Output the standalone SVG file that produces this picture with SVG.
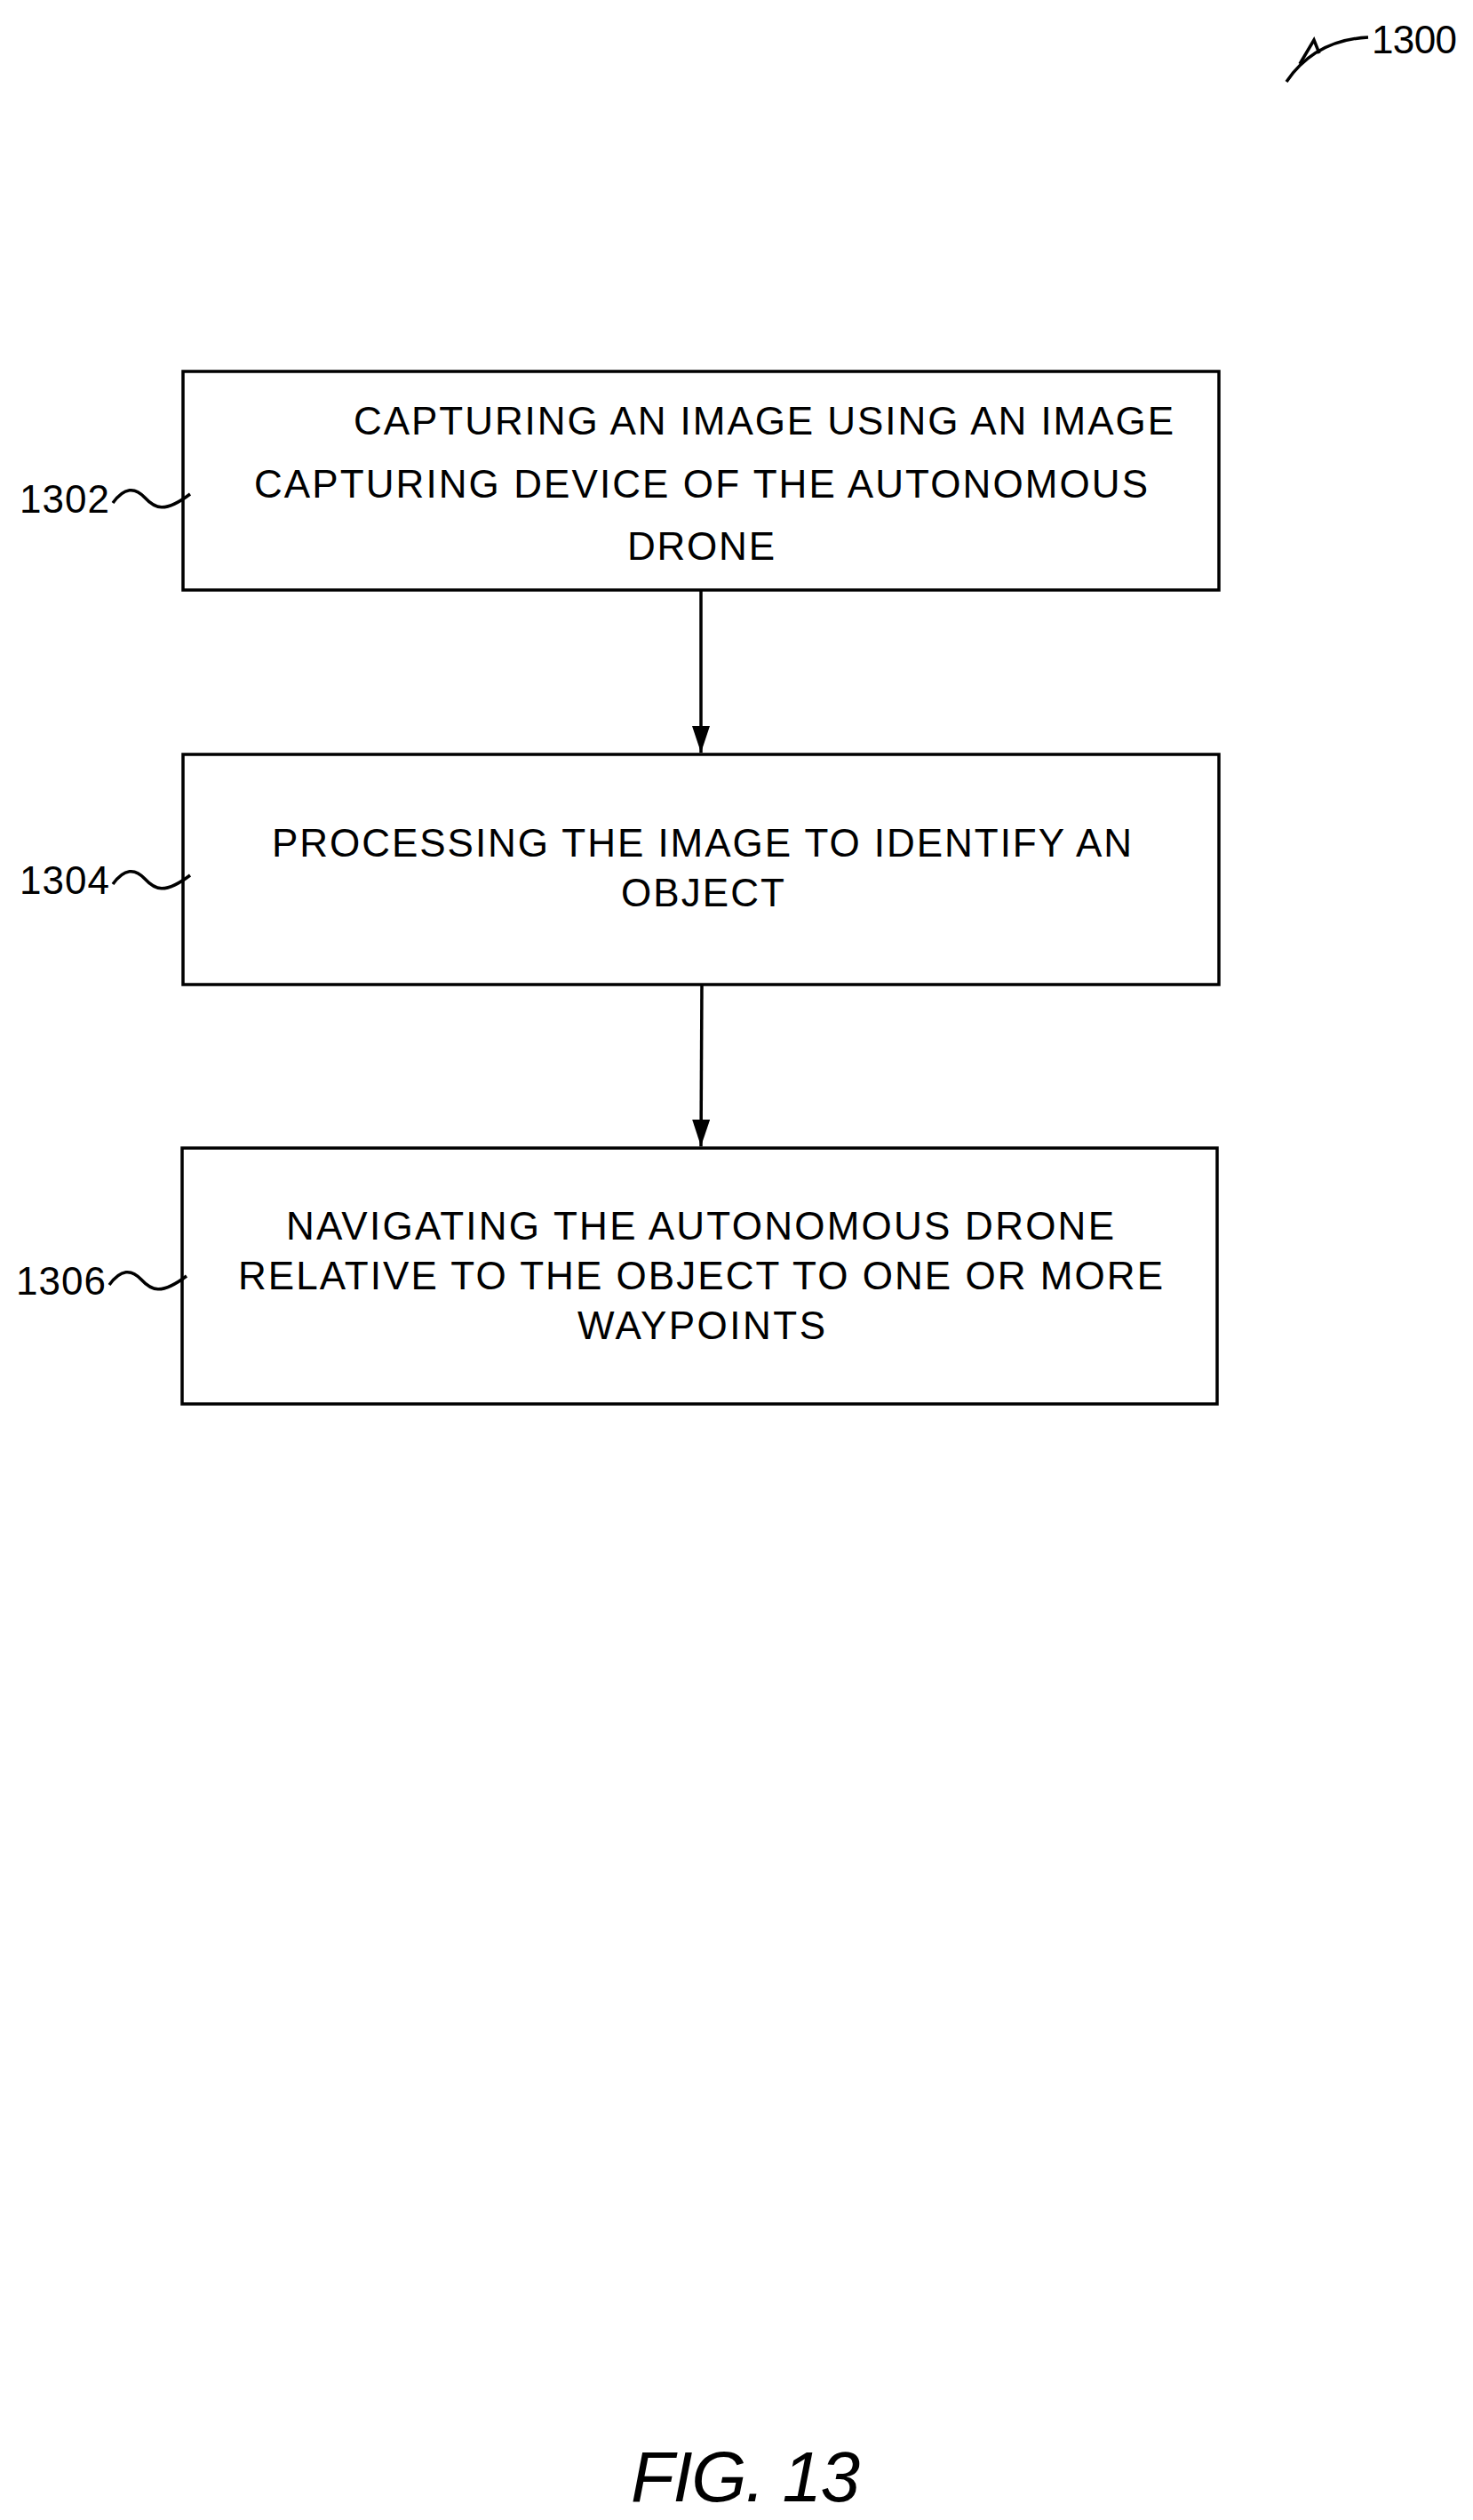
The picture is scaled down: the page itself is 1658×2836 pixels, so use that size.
<svg xmlns="http://www.w3.org/2000/svg" width="1658" height="2836" viewBox="0 0 1658 2836">
<style>
.box{fill:#fff;stroke:#000;stroke-width:3.5}
.t{font-family:"Liberation Sans",Arial,sans-serif;font-size:44px;fill:#000}
.lbl{font-family:"Liberation Sans",Arial,sans-serif;font-size:44px;fill:#000}
.sq{fill:none;stroke:#000;stroke-width:3.5}
.c{stroke:#000;stroke-width:3.5;fill:none}
</style>
<defs><marker id="ah" markerWidth="10" markerHeight="12" refX="9" refY="6" orient="auto" markerUnits="userSpaceOnUse" viewBox="0 0 10 12"><path d="M0,0 L10,6 L0,12 Z" fill="#000"/></marker>
<marker id="a2" markerWidth="30" markerHeight="20" refX="30" refY="10" orient="auto" markerUnits="userSpaceOnUse"><path d="M0,0 L30,10 L0,20 Z" fill="#000"/></marker></defs>
<g id="n1302">
<rect class="box" x="206" y="418" width="1166" height="246"/>
<text class="t" x="398" y="489" textLength="923">CAPTURING AN IMAGE USING AN IMAGE</text>
<text class="t" x="286" y="560" textLength="1006">CAPTURING DEVICE OF THE AUTONOMOUS</text>
<text class="t" x="706" y="630" textLength="166">DRONE</text>
<text class="lbl" x="22" y="577" textLength="101">1302</text>
<path class="sq" d="M127,566 C140,548 152,548 163,560 S185,578 214,556"/>
</g>
<g id="n1304">
<rect class="box" x="206" y="849" width="1166" height="259"/>
<text class="t" x="306" y="964" textLength="968">PROCESSING THE IMAGE TO IDENTIFY AN</text>
<text class="t" x="699" y="1020" textLength="184">OBJECT</text>
<text class="lbl" x="22" y="1006" textLength="101">1304</text>
<path class="sq" d="M127,995 C140,977 152,977 163,989 S185,1007 214,985"/>
</g>
<g id="n1306">
<rect class="box" x="205" y="1292" width="1165" height="288"/>
<text class="t" x="322" y="1395" textLength="932">NAVIGATING THE AUTONOMOUS DRONE</text>
<text class="t" x="268" y="1451" textLength="1041">RELATIVE TO THE OBJECT TO ONE OR MORE</text>
<text class="t" x="650" y="1507" textLength="279">WAYPOINTS</text>
<text class="lbl" x="18" y="1457" textLength="101">1306</text>
<path class="sq" d="M123,1446 C136,1428 148,1428 159,1440 S181,1458 210,1436"/>
</g>
<g id="connectors">
<line class="c" x1="789" y1="664" x2="789" y2="847" marker-end="url(#a2)"/>
<line class="c" x1="790" y1="1108" x2="789" y2="1290" marker-end="url(#a2)"/>
</g>
<g id="ref1300">
<text class="lbl" x="1544" y="60" textLength="96">1300</text>
<path class="c" d="M1448,92 Q1480,45 1540,42" stroke-width="4"/>
<path class="c" d="M1463,72 L1479,45 L1485,60" stroke-width="4"/>
</g>
<text x="710" y="2815" font-family="Liberation Sans,Arial,sans-serif" font-style="italic" font-size="80" textLength="258">FIG. 13</text>
</svg>
